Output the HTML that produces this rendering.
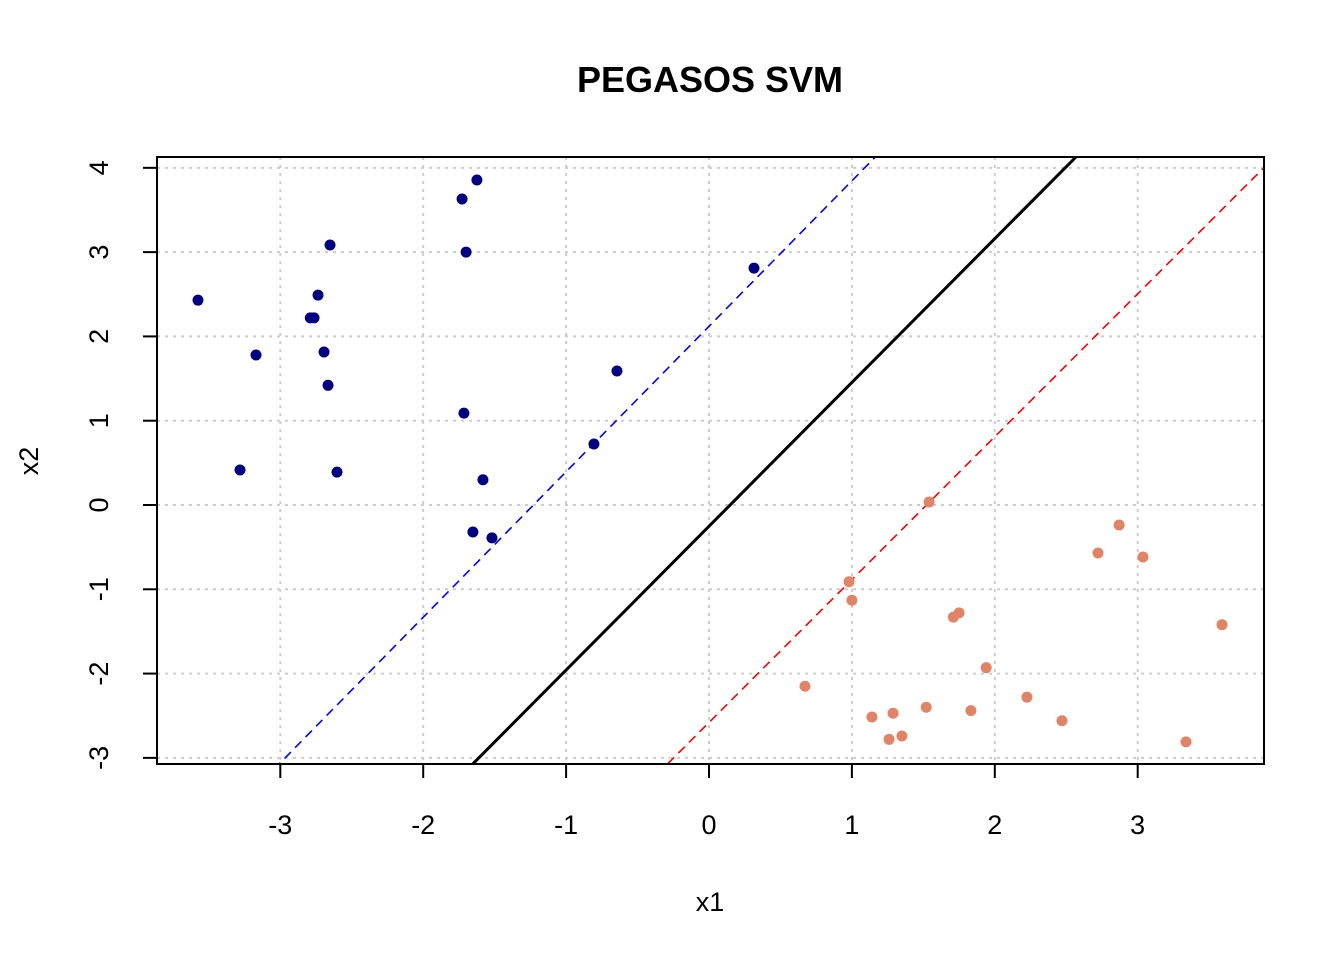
<!DOCTYPE html>
<html><head><meta charset="utf-8"><style>
html,body{margin:0;padding:0;background:#fff;overflow:hidden;width:1344px;height:960px;}
svg{display:block;}
svg text{font-family:"Liberation Sans",Arial,sans-serif;}
</style></head><body>
<svg id="chart" width="1344" height="960" xmlns="http://www.w3.org/2000/svg">
<text x="710" y="92" text-anchor="middle" font-size="36" font-weight="bold">PEGASOS SVM</text>
<text x="710" y="911" text-anchor="middle" font-size="27">x1</text>
<text transform="translate(38,461) rotate(-90)" text-anchor="middle" font-size="27">x2</text>
<g id="grid"></g><g id="lines"></g><g id="pts"></g><g id="axes"></g>
</svg>
<script>
const xTicks=[-3,-2,-1,0,1,2,3];
const yTicks=[-3,-2,-1,0,1,2,3,4];
const blueX=[-3.576,-3.282,-3.17,-2.79,-2.764,-2.736,-2.694,-2.666,-2.652,-2.603,-1.728,-1.624,-1.70,-1.715,-1.582,-1.652,-1.519,-0.805,-0.644,0.315];
const blueY=[2.43,0.415,1.78,2.22,2.22,2.49,1.815,1.42,3.085,0.39,3.63,3.856,3.0,1.09,0.30,-0.32,-0.39,0.724,1.59,2.81];
const redX=[1.54,0.98,1.0,0.672,1.14,1.288,1.26,1.35,1.52,1.71,1.75,1.833,1.94,2.225,2.47,2.722,2.87,3.037,3.338,3.59];
const redY=[0.036,-0.91,-1.13,-2.15,-2.515,-2.47,-2.78,-2.74,-2.40,-1.33,-1.28,-2.44,-1.93,-2.28,-2.56,-0.57,-0.237,-0.617,-2.81,-1.42];
const lineSlope=[1.706,1.726,1.695];
const lineIntercept=[-0.252,2.12,-2.58];
const L=157,R=1264,T=157,B=764;
const sx=v=>709+v*142.9, sy=v=>505-v*84.29;
const NS="http://www.w3.org/2000/svg";
function mk(tag,attrs,parent){const e=document.createElementNS(NS,tag);for(const k in attrs)e.setAttribute(k,attrs[k]);document.getElementById(parent).appendChild(e);return e;}
xTicks.forEach(v=>{const e=mk('line',{x1:sx(v),x2:sx(v),y1:T,y2:B,stroke:'#cccccc','stroke-width':2,'stroke-dasharray':'3,5'},'grid');

});
yTicks.forEach(v=>{const e=mk('line',{x1:L,x2:R,y1:sy(v),y2:sy(v),stroke:'#cccccc','stroke-width':2,'stroke-dasharray':'3,5'},'grid');

});
const styles=[{c:'#000',w:3,d:''},{c:'#0000ff',w:1.6,d:'9,6'},{c:'#ff0000',w:1.6,d:'9,6'}];
const lnames=['decision-boundary','positive-margin','negative-margin'];
const cp=mk('clipPath',{id:'clip'},'lines');mk('rect',{x:L,y:T,width:R-L,height:B-T},'clip');
lineSlope.forEach((m,i)=>{const x0=-4,x1=4;
const e=mk('line',{x1:sx(x0),y1:sy(m*x0+lineIntercept[i]),x2:sx(x1),y2:sy(m*x1+lineIntercept[i]),stroke:styles[i].c,'stroke-width':styles[i].w,'stroke-dasharray':styles[i].d,'clip-path':'url(#clip)'},'lines');

});
blueX.forEach((x,i)=>{const e=mk('circle',{cx:sx(x),cy:sy(blueY[i]),r:5.5,fill:'#000080'},'pts');

});
redX.forEach((x,i)=>{const e=mk('circle',{cx:sx(x),cy:sy(redY[i]),r:5.5,fill:'#e08468'},'pts');

});
const box=mk('rect',{x:L,y:T,width:R-L,height:B-T,fill:'none',stroke:'#000','stroke-width':2},'axes');


xTicks.forEach(v=>{mk('line',{x1:sx(v),x2:sx(v),y1:B,y2:B+14,stroke:'#000','stroke-width':2},'axes');
const t=mk('text',{x:sx(v),y:834,'text-anchor':'middle','font-size':27},'axes');t.textContent=v;

});
yTicks.forEach(v=>{mk('line',{x1:L-14,x2:L,y1:sy(v),y2:sy(v),stroke:'#000','stroke-width':2},'axes');
const t=mk('text',{transform:`translate(108,${sy(v)}) rotate(-90)`,'text-anchor':'middle','font-size':27},'axes');t.textContent=v;

});
</script>
</body></html>
